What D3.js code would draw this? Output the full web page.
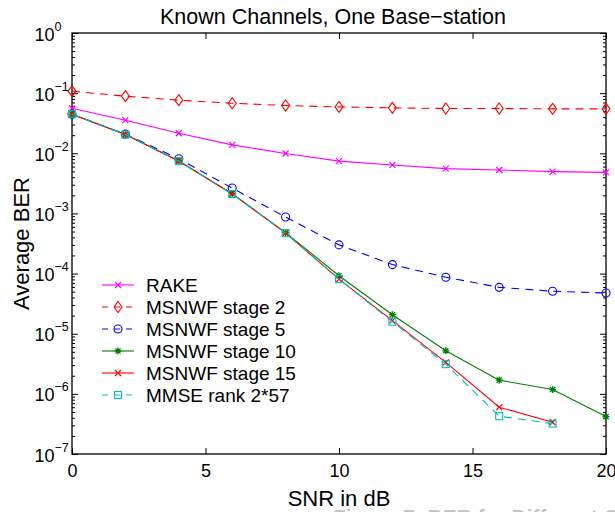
<!DOCTYPE html>
<html><head><meta charset="utf-8">
<script src="https://cdn.jsdelivr.net/npm/d3@7"></script>
<style>
body{margin:0;background:#fff;}
text{font-family:"Liberation Sans",Arial,sans-serif;}
</style></head>
<body><svg id="c" width="615" height="512"></svg>
<script>
const snr = [0,2,4,6,8,10,12,14,16,18,20];
const rake    = [0.056,0.0355,0.0215,0.0138,0.0099,0.0074,0.0064,0.00555,0.00528,0.00495,0.00482];
const stage2  = [0.108,0.089,0.0764,0.068,0.0623,0.059,0.057,0.0555,0.0555,0.0548,0.0548];
const stage5  = [0.0447,0.0208,0.0081,0.00264,0.00087,0.0003,0.000141,0.000087,0.000059,0.0000508,0.0000476];
const stage10 = [0.0447,0.0205,0.00745,0.00213,0.00048,0.000092,0.0000207,0.0000052,0.00000169,0.00000118,0.000000419];
const stage15 = [0.0447,0.0205,0.00745,0.00211,0.00047,0.000081,0.0000165,0.00000333,0.0000006,0.000000337];
const mmse    = [0.0447,0.0205,0.0074,0.0021,0.00047,0.000081,0.0000158,0.00000312,0.000000425,0.00000032];
const seriesNames = ["RAKE","MSNWF stage 2","MSNWF stage 5","MSNWF stage 10","MSNWF stage 15","MMSE rank 2*57"];
const xTicks = [0,5,10,15,20];
const yExps = [0,-1,-2,-3,-4,-5,-6,-7];
const titleText = "Known Channels, One Base\u2212station";
const xLabel = "SNR in dB", yLabel = "Average BER";
const captionText = "Figure 7: BER for Different Channels";

const series = [
  {name:seriesNames[0], y:rake,    color:"#ff00ff", dash:null,  marker:"x"},
  {name:seriesNames[1], y:stage2,  color:"#ff0000", dash:"8,6", marker:"diamond"},
  {name:seriesNames[2], y:stage5,  color:"#0000ff", dash:"8,6", marker:"circle"},
  {name:seriesNames[3], y:stage10, color:"#008000", dash:null,  marker:"star"},
  {name:seriesNames[4], y:stage15, color:"#ff0000", dash:null,  marker:"x"},
  {name:seriesNames[5], y:mmse,    color:"#00bfbf", dash:"8,6", marker:"square"}
];

const L=72, R=606, T=33, B=454;
const svg = d3.select("#c");
const x = d3.scaleLinear().domain([0,20]).range([L,R]);
const y = d3.scaleLog().domain([1e-7,1]).range([B,T]);

const FT = 21.5, FL = 22, FK = 18, FG = 19;
svg.append("text").attr("x",333).attr("y",24).attr("text-anchor","middle")
  .attr("font-size",FT).text(titleText);
svg.append("text").attr("x",(L+R)/2).attr("y",506).attr("text-anchor","middle")
  .attr("font-size",FL).text(xLabel);
svg.append("text").attr("transform",`translate(29,${(T+B)/2}) rotate(-90)`)
  .attr("text-anchor","middle").attr("font-size",FL).text(yLabel);

const minor=[];
for(let e=-7;e<0;e++) for(let m=2;m<=9;m++) minor.push(m*Math.pow(10,e));
const major = yExps.map(e=>Math.pow(10,e));

function styleAxis(g){ g.select(".domain").remove(); g.selectAll("line").attr("stroke","#000"); }

svg.append("g").attr("transform",`translate(${L},0)`).call(d3.axisLeft(y).tickValues(minor).tickSize(-3).tickFormat("")).call(styleAxis);
svg.append("g").attr("transform",`translate(${R},0)`).call(d3.axisRight(y).tickValues(minor).tickSize(-3).tickFormat("")).call(styleAxis);
svg.append("g").attr("transform",`translate(${R},0)`).call(d3.axisRight(y).tickValues(major).tickSize(-6).tickFormat("")).call(styleAxis);
const yax = svg.append("g").attr("transform",`translate(${L},0)`)
  .call(d3.axisLeft(y).tickValues(major).tickSize(-6).tickPadding(0).tickFormat(""));
styleAxis(yax);
yax.selectAll(".tick").each(function(d){
  const e = Math.round(Math.log10(d));
  const g = d3.select(this);
  g.select("text").remove();
  const t = g.append("text").attr("fill","#000").attr("text-anchor","start")
    .attr("x",-37.5).attr("y",7).attr("font-size",FK).attr("font-family","Liberation Sans, Arial, sans-serif");
  t.append("tspan").text("10");
  t.append("tspan").attr("dy",-10).attr("font-size",12.5).text(e===0?"0":"\u2212"+(-e));
});

const xax = svg.append("g").attr("transform",`translate(0,${B})`)
  .call(d3.axisBottom(x).tickValues(xTicks).tickSize(-6).tickPadding(10).tickFormat(d3.format("d")));
styleAxis(xax);
xax.selectAll("text").attr("font-size",FK).attr("font-family","Liberation Sans, Arial, sans-serif").attr("fill","#000");
svg.append("g").attr("transform",`translate(0,${T})`)
  .call(d3.axisTop(x).tickValues(xTicks).tickSize(-6).tickFormat("")).call(styleAxis);

svg.append("rect").attr("x",L).attr("y",T).attr("width",R-L).attr("height",B-T)
  .attr("fill","none").attr("stroke","#000").attr("stroke-width",1.3);

function marker(g, type, cx, cy, color){
  if(type==="x"){
    g.append("path").attr("d",`M${cx-3},${cy-3}L${cx+3},${cy+3}M${cx-3},${cy+3}L${cx+3},${cy-3}`)
      .attr("stroke",color).attr("stroke-width",1.2).attr("fill","none");
  } else if(type==="diamond"){
    g.append("path").attr("d",`M${cx},${cy-5.5}L${cx+4},${cy}L${cx},${cy+5.5}L${cx-4},${cy}Z`)
      .attr("stroke",color).attr("stroke-width",1.1).attr("fill","none");
  } else if(type==="circle"){
    g.append("circle").attr("cx",cx).attr("cy",cy).attr("r",4)
      .attr("stroke",color).attr("stroke-width",1.1).attr("fill","none");
  } else if(type==="square"){
    g.append("rect").attr("x",cx-3.5).attr("y",cy-3.5).attr("width",7).attr("height",7)
      .attr("stroke",color).attr("stroke-width",1.1).attr("fill","none");
  } else if(type==="star"){
    g.append("path").attr("d",`M${cx-3.5},${cy}L${cx+3.5},${cy}M${cx},${cy-3.5}L${cx},${cy+3.5}M${cx-2.6},${cy-2.6}L${cx+2.6},${cy+2.6}M${cx-2.6},${cy+2.6}L${cx+2.6},${cy-2.6}`)
      .attr("stroke",color).attr("stroke-width",1.3).attr("fill","none");
  }
}

const line = d3.line().x(d=>x(d[0])).y(d=>y(d[1]));
const plot = svg.append("g");
series.forEach(s=>{
  const pts = s.y.map((v,i)=>[snr[i],v]);
  plot.append("path").attr("d",line(pts)).attr("fill","none").attr("stroke",s.color)
    .attr("stroke-width",1.1).attr("stroke-dasharray",s.dash);
  const mg = plot.append("g");
  pts.forEach(p=>marker(mg,s.marker,x(p[0]),y(p[1]),s.color));
});

const lg = svg.append("g");
series.forEach((s,i)=>{
  const ly = 285 + i*22;
  lg.append("line").attr("x1",102).attr("x2",134).attr("y1",ly).attr("y2",ly)
    .attr("stroke",s.color).attr("stroke-width",1.1).attr("stroke-dasharray",s.dash?"6,6":null);
  marker(lg,s.marker,118,ly,s.color);
  lg.append("text").attr("x",146).attr("y",ly+7).attr("font-size",FG).text(s.name);
});

svg.append("text").attr("x",333).attr("y",524).attr("font-size",21)
  .attr("font-family","Liberation Serif, Times New Roman, serif").attr("font-weight","bold")
  .attr("fill","#c4c4c4").text(captionText);
</script></body></html>
